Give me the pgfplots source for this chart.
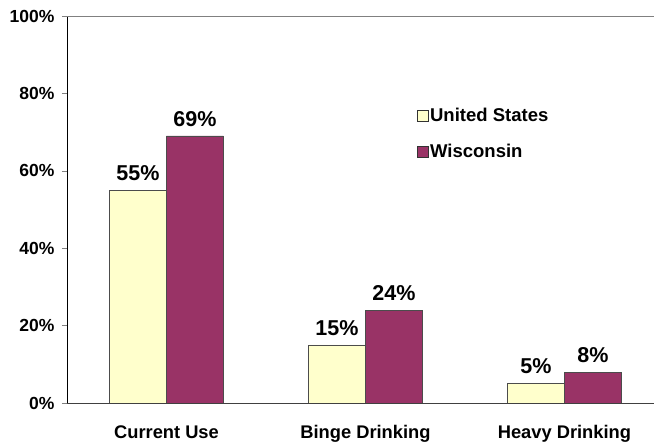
\documentclass[border=0pt]{standalone}
\usepackage{fontspec}
\setmainfont{Liberation Sans}
\usepackage{pgfplots}
\pgfplotsset{compat=1.18}
\definecolor{usyel}{HTML}{FFFFCC}
\definecolor{wimar}{HTML}{993366}
\begin{document}
\begin{tikzpicture}
\begin{axis}[
  name=ax,
  scale only axis, width=587pt, height=387pt,
  ybar=0pt, bar width=57pt,
  xmin=-0.5, xmax=2.45, ymin=0, ymax=100,
  axis x line=bottom, axis y line=left,
  axis line style={-, line width=0.8pt},
  x axis line style={black!75},
  tick align=outside,
  xtick={0,1,2}, xticklabels={Current Use, Binge Drinking, Heavy Drinking},
  major x tick style={draw=none},
  extra x ticks={0.5,1.5}, extra x tick labels={},
  extra x tick style={major tick length=6pt, tick style={black!75, line width=0.8pt}},
  ytick={0,20,40,60,80,100}, major tick length=5pt,
  yticklabel={\pgfmathprintnumber{\tick}\%},
  /pgf/number format/assume math mode=true,
  yticklabel style={font=\fontsize{17.5}{20}\selectfont\bfseries, xshift=-4pt},
  xticklabel style={font=\fontsize{18.3}{21}\selectfont\bfseries, yshift=-14pt},
  nodes near coords={\pgfmathprintnumber{\pgfplotspointmeta}\%},
  every node near coord/.append style={font=\fontsize{21.5}{24}\selectfont\bfseries, yshift=6pt},
  legend style={draw=none, fill=none, at={(rel axis cs:0.59,0.772)}, anchor=north west,
    font=\fontsize{18.5}{21}\selectfont\bfseries, row sep=17pt,
    /tikz/every even column/.append style={column sep=2pt}},
  legend cell align=left,
  legend image code/.code={\draw[#1, draw=black!80, line width=0.6pt] (0pt,-5.5pt) rectangle (11pt,5.5pt);},
]
\addplot[fill=usyel, draw=black!70, line width=0.6pt] coordinates {(0,55) (1,15) (2,5)};
\addplot[fill=wimar, draw=black!70, line width=0.6pt] coordinates {(0,69) (1,24) (2,8)};
\legend{United States, Wisconsin}
\draw[gray, line width=0.8pt] (rel axis cs:0,1) -- (rel axis cs:1,1);
\end{axis}
\pgfresetboundingbox
\path[use as bounding box] ([xshift=-67pt,yshift=-40pt]ax.south west) rectangle ([yshift=16pt]ax.north east);
\end{tikzpicture}
\end{document}
